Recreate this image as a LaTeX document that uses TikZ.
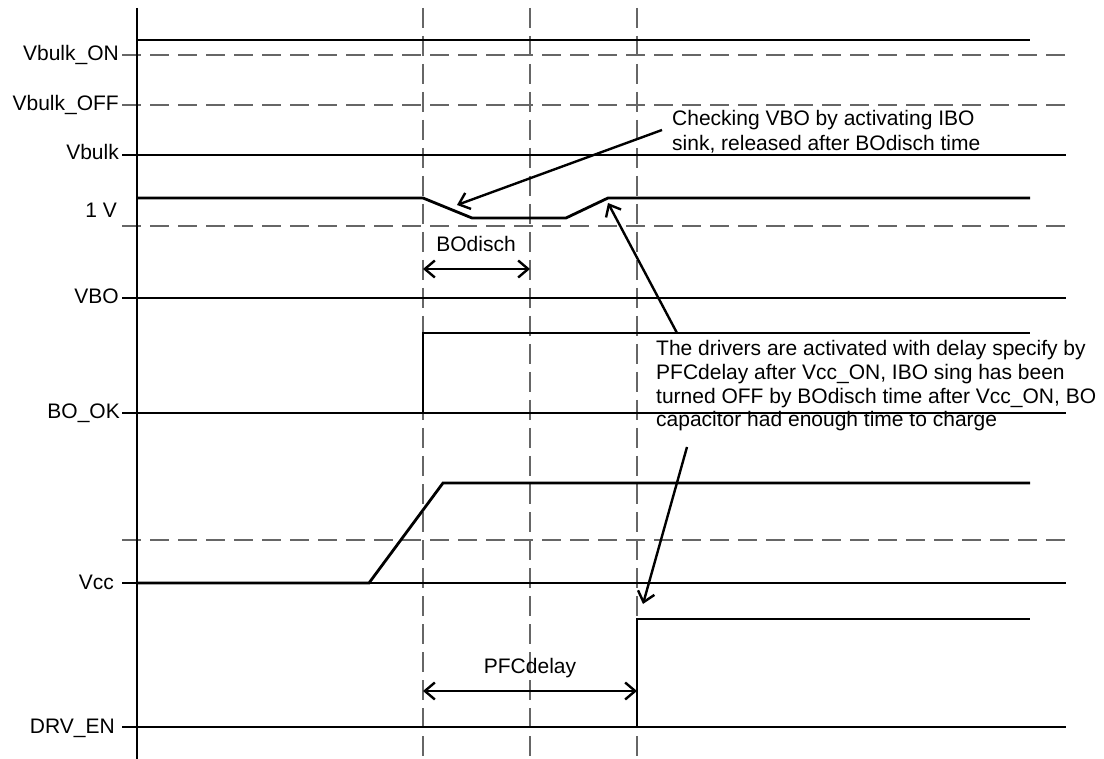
\documentclass[tikz,border=0pt]{standalone}
\usepackage{fontspec}
\setmainfont{Liberation Sans}
\usetikzlibrary{arrows.meta}
\begin{document}
\begin{tikzpicture}[x=1pt,y=-1pt,
  trace/.style={line width=2.8pt, line join=miter},
  refline/.style={line width=2.6pt},
  dref/.style={line width=1.2pt, draw=black!60, dash pattern=on 19pt off 9pt},
  vdash/.style={line width=1.2pt, draw=black!60, dash pattern=on 20pt off 8pt},
  lbl/.style={anchor=base east, inner sep=0pt, font=\fontsize{21}{25}\selectfont},
  tlbl/.style={anchor=base, inner sep=0pt, font=\fontsize{21}{25}\selectfont},
  pointer/.style={line width=2.4pt, -{Straight Barb[length=10pt,width=17pt]}},
  span/.style={line width=2.4pt, {Straight Barb[length=10pt,width=17pt]}-{Straight Barb[length=10pt,width=17pt]}}
]
\fill[white] (0,0) rectangle (1104,759);
\useasboundingbox (0,0) rectangle (1104,759);

% vertical dashed time markers
\coordinate (t1top) at (423,8);   \coordinate (t1bot) at (423,759);
\coordinate (t2top) at (530,8);   \coordinate (t2bot) at (530,759);
\coordinate (t3top) at (637,8);   \coordinate (t3bot) at (637,759);
\draw[vdash] (t1top) -- (t1bot);
\draw[vdash] (t2top) -- (t2bot);
\draw[vdash] (t3top) -- (t3bot);

% dashed threshold lines
\coordinate (onL) at (122,55);   \coordinate (onR) at (1066,55);
\coordinate (offL) at (122,105); \coordinate (offR) at (1066,105);
\coordinate (oneL) at (122,226); \coordinate (oneR) at (1066,226);
\coordinate (vccthL) at (122,540); \coordinate (vccthR) at (1066,540);
\draw[dref] (onL) -- (onR);
\draw[dref] (offL) -- (offR);
\draw[dref] (oneL) -- (oneR);
\draw[dref] (vccthL) -- (vccthR);

% solid reference lines
\coordinate (vbulkL) at (122,155); \coordinate (vbulkR) at (1066,155);
\coordinate (vboL) at (122,298);   \coordinate (vboR) at (1066,298);
\coordinate (bookL) at (122,413);  \coordinate (bookR) at (1066,413);
\coordinate (vccL) at (122,583);   \coordinate (vccR) at (1066,583);
\coordinate (drvL) at (122,727);   \coordinate (drvR) at (1066,727);
\draw[refline] (vbulkL) -- (vbulkR);
\draw[refline] (vboL) -- (vboR);
\draw[refline] (bookL) -- (bookR);
\draw[refline] (vccL) -- (vccR);
\draw[refline] (drvL) -- (drvR);

% axis
\coordinate (axtop) at (137,8); \coordinate (axbot) at (137,759);
\draw[line width=2.6pt] (axtop) -- (axbot);

% traces
\draw[trace] (137,40) -- (1030,40);
\draw[trace] (137,198) -- (423,198) -- (472,218) -- (566,218) -- (608,198) -- (1030,198);
\draw[trace] (423,413) -- (423,333) -- (1030,333);
\draw[trace] (137,583) -- (369,583) -- (443,483) -- (1030,483);
\draw[trace] (637,727) -- (637,619) -- (1030,619);

% labels
\node[lbl] (lon) at (119,61) {Vbulk\_ON};
\node[lbl] (loff) at (119,111) {Vbulk\_OFF};
\node[lbl] (lbulk) at (119,160) {Vbulk};
\node[lbl] (lone) at (117,218) {1 V};
\node[lbl] (lvbo) at (119,304) {VBO};
\node[lbl] (lbook) at (120,419) {BO\_OK};
\node[lbl] (lvcc) at (114,589) {Vcc};
\node[lbl] (ldrv) at (115,733) {DRV\_EN};

% time spans
\coordinate (bdA) at (423,269); \coordinate (bdB) at (530,269);
\draw[span] (bdA) -- (bdB);
\node[tlbl] (bdlbl) at (476,252) {BOdisch};
\coordinate (pdA) at (423,691); \coordinate (pdB) at (637,691);
\draw[span] (pdA) -- (pdB);
\node[tlbl] (pdlbl) at (530,673) {PFCdelay};

% notes (base anchor = baseline of last line)
\node[anchor=base west, inner sep=0pt, align=left, font=\fontsize{21}{25.7}\selectfont] (note1) at (672,151)
  {Checking VBO by activating IBO\\sink, released after BOdisch time};
\node[anchor=base west, inner sep=0pt, align=left, font=\fontsize{21}{23.7}\selectfont] (note2) at (656,427)
  {The drivers are activated with delay specify by\\PFCdelay after Vcc\_ON, IBO sing has been\\turned OFF by BOdisch time after Vcc\_ON, BO\\capacitor had enough time to charge};

\coordinate (a1s) at (662,130); \coordinate (a1e) at (457,205);
\coordinate (a2s) at (677,333); \coordinate (a2e) at (608,203);
\coordinate (a3s) at (687,447); \coordinate (a3e) at (643,604);
\draw[pointer] (a1s) -- (a1e);
\draw[pointer] (a2s) -- (a2e);
\draw[pointer] (a3s) -- (a3e);
\end{tikzpicture}
\end{document}
